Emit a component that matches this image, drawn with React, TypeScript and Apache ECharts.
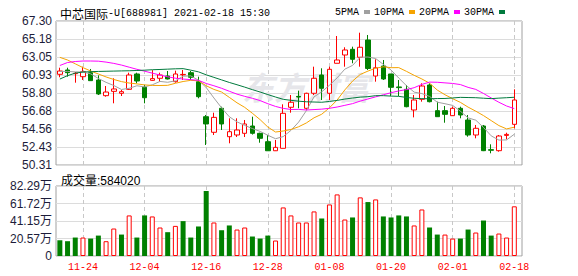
import React, { useEffect, useRef } from 'react';
import * as echarts from 'echarts';

const stockName = '中芯国际';
const stockInfo = '-U[688981] 2021-02-18 15:30';
const watermark = '东方财富';

const dates = [
  '11-19', '11-20', '11-23', '11-24', '11-25', '11-26', '11-27', '11-30', '12-01', '12-02',
  '12-03', '12-04', '12-07', '12-08', '12-09', '12-10', '12-11', '12-14', '12-15', '12-16',
  '12-17', '12-18', '12-21', '12-22', '12-23', '12-24', '12-25', '12-28', '12-29', '12-30',
  '12-31', '01-04', '01-05', '01-06', '01-07', '01-08', '01-11', '01-12', '01-13', '01-14',
  '01-15', '01-18', '01-19', '01-20', '01-21', '01-22', '01-25', '01-26', '01-27', '01-28',
  '01-29', '02-01', '02-02', '02-03', '02-04', '02-05', '02-08', '02-09', '02-10', '02-18',
];

const opens = [
  61.01, 61.52, 61.08, 60.73, 61.20, 60.34, 58.49, 59.00, 58.77, 59.24,
  61.05, 59.48, 60.30, 60.54, 60.81, 60.14, 60.95, 61.20, 60.14, 56.01,
  54.17, 57.00, 53.65, 53.85, 54.05, 54.91, 54.05, 53.06, 51.99, 52.28,
  57.12, 58.40, 57.00, 58.77, 60.93, 58.77, 62.31, 63.29, 63.96, 63.02,
  65.06, 60.81, 61.99, 61.05, 59.52, 59.24, 56.80, 58.06, 59.75, 56.72,
  56.72, 56.13, 57.00, 55.62, 53.85, 54.91, 52.12, 52.00, 53.80, 55.11,
];
const closes = [
  61.40, 61.20, 61.13, 61.32, 60.26, 58.69, 58.92, 59.28, 58.96, 60.93,
  60.22, 58.25, 60.50, 60.93, 60.46, 61.05, 61.00, 60.66, 58.37, 55.15,
  55.93, 55.15, 54.24, 54.44, 55.15, 54.05, 53.46, 51.99, 52.39, 56.41,
  57.71, 58.33, 58.77, 60.54, 59.36, 61.60, 62.70, 63.88, 62.78, 64.20,
  61.70, 61.78, 60.46, 59.48, 59.44, 57.19, 57.98, 59.63, 57.78, 56.01,
  56.29, 57.00, 56.21, 53.85, 54.64, 52.00, 52.05, 53.73, 53.92, 57.98,
];
const lows = [
  60.66, 60.73, 60.02, 60.34, 60.26, 58.57, 58.37, 57.59, 58.45, 59.16,
  59.95, 57.59, 60.25, 60.14, 60.40, 60.02, 60.34, 60.34, 58.18, 52.67,
  53.85, 54.44, 52.87, 53.61, 53.61, 53.90, 52.94, 51.99, 51.96, 52.28,
  56.48, 57.00, 56.80, 58.57, 57.98, 57.98, 62.31, 61.91, 62.31, 61.91,
  61.52, 60.14, 60.34, 58.45, 58.45, 57.12, 55.93, 57.78, 57.70, 56.00,
  55.30, 56.10, 55.82, 53.65, 53.46, 51.95, 51.69, 51.88, 53.34, 54.64,
];
const highs = [
  61.79, 61.79, 61.28, 61.91, 61.64, 60.89, 59.63, 60.54, 59.16, 61.20,
  61.20, 59.75, 61.50, 61.20, 61.40, 61.44, 61.52, 61.40, 60.73, 56.21,
  56.48, 57.19, 55.82, 55.82, 55.62, 56.01, 54.12, 53.85, 53.26, 57.47,
  58.57, 59.08, 58.84, 61.91, 61.72, 61.91, 65.53, 64.20, 64.27, 65.92,
  65.65, 62.78, 62.70, 61.05, 60.34, 59.75, 58.57, 59.95, 59.95, 57.78,
  57.27, 57.19, 57.19, 56.21, 55.03, 55.03, 52.75, 53.85, 54.12, 59.24,
];

// volume in 万 (10,000 shares)
const volumes = [
  18.5, 17.4, 21.7, 21.7, 20.5, 24.0, 17.4, 32.3, 25.2, 47.7,
  21.7, 47.7, 46.5, 33.5, 28.0, 35.4, 41.0, 21.7, 34.7, 76.4,
  39.4, 30.3, 35.9, 31.1, 33.5, 22.9, 20.5, 24.0, 18.2, 57.1,
  47.7, 39.4, 39.4, 52.4, 44.1, 60.6, 72.4, 42.9, 45.3, 68.9,
  63.4, 66.5, 46.5, 45.3, 47.7, 46.5, 35.9, 54.7, 33.5, 25.2,
  25.2, 20.5, 20.5, 31.1, 27.6, 41.7, 24.0, 26.4, 21.7, 58.402,
];
// 1 = red (up) volume bar, 0 = green
const volUp = [
  0, 0, 0, 1, 0, 0, 1, 1, 0, 1,
  0, 0, 1, 1, 0, 1, 0, 0, 0, 0,
  1, 0, 0, 1, 1, 0, 0, 0, 1, 1,
  1, 1, 1, 1, 0, 1, 1, 1, 0, 1,
  0, 1, 0, 0, 0, 0, 1, 1, 0, 0,
  1, 1, 0, 0, 1, 0, 0, 1, 1, 1,
];

const ma5 = [
  61.35, 61.35, 61.30, 61.28, 61.06, 60.52, 60.06, 59.69, 59.22, 59.36,
  59.66, 59.53, 59.77, 60.17, 60.07, 60.24, 60.79, 60.82, 60.31, 59.45,
  58.22, 57.05, 56.00, 55.40, 54.98, 54.61, 54.27, 53.82, 53.41, 53.66,
  54.39, 55.37, 56.72, 58.35, 58.94, 59.72, 60.59, 61.62, 62.06, 63.03,
  63.05, 62.87, 62.18, 61.52, 60.57, 59.67, 58.91, 58.74, 58.40, 57.72,
  57.54, 57.34, 56.66, 55.87, 55.60, 54.74, 53.75, 53.25, 53.27, 53.94,
];
const ma10 = [
  63.01, 62.70, 62.25, 61.80, 61.40, 61.05, 60.70, 60.40, 60.15, 59.98,
  59.88, 59.76, 59.70, 59.69, 59.71, 59.95, 60.16, 60.30, 60.24, 59.66,
  59.23, 58.92, 58.29, 57.65, 57.11, 56.41, 55.66, 54.79, 54.20, 54.32,
  54.50, 54.82, 55.27, 55.88, 56.30, 57.06, 57.98, 59.17, 60.21, 60.99,
  61.39, 61.73, 61.90, 61.79, 61.80, 61.36, 60.89, 60.46, 59.96, 59.15,
  58.60, 58.13, 57.70, 57.14, 56.66, 56.14, 55.55, 54.96, 54.57, 54.77,
];
const ma20 = [
  62.05, 62.40, 62.52, 62.58, 62.58, 62.56, 62.45, 62.30, 62.10, 61.85,
  61.60, 61.38, 61.15, 60.92, 60.72, 60.55, 60.45, 60.38, 60.30, 59.93,
  59.66, 59.36, 59.01, 58.67, 58.41, 58.18, 57.91, 57.54, 57.22, 56.99,
  56.86, 56.87, 56.80, 56.85, 56.90, 57.00, 57.15, 57.35, 57.55, 57.85,
  58.10, 58.35, 58.60, 58.84, 59.05, 59.21, 59.43, 59.82, 60.09, 60.07,
  60.00, 59.93, 59.80, 59.47, 59.23, 58.75, 58.22, 57.71, 57.27, 56.96,
];
const ma30 = [
  60.45, 60.85, 61.15, 61.28, 61.32, 61.35, 61.37, 61.39, 61.41, 61.43,
  61.46, 61.50, 61.55, 61.58, 61.62, 61.66, 61.68, 61.50, 61.30, 60.95,
  60.65, 60.35, 60.05, 59.78, 59.50, 59.20, 58.92, 58.62, 58.33, 58.06,
  57.94, 57.84, 57.77, 57.74, 57.71, 57.81, 57.93, 58.09, 58.21, 58.32,
  58.37, 58.49, 58.49, 58.44, 58.41, 58.28, 58.18, 58.14, 58.12, 58.15,
  58.16, 58.22, 58.29, 58.27, 58.25, 58.19, 58.14, 58.20, 58.25, 58.30,
];

const maNames = ['5PMA', '10PMA', '20PMA', '30PMA'];
const maColors = ['#a0a0a0', '#f5a300', '#ff00ff', '#007a3d'];

const priceMin = 50.31;
const priceMax = 67.3;
const priceTicks = ['50.31', '52.43', '54.56', '56.68', '58.80', '60.93', '63.05', '65.18', '67.30'];
const volMax = 82.29;
const volTicks = ['0', '20.57万', '41.15万', '61.72万', '82.29万'];

const RED = '#ff0000';
const GREEN = '#008000';

export default function App() {
  const ref = useRef<HTMLDivElement>(null);

  useEffect(() => {
    if (!ref.current) return;
    const chart = echarts.init(ref.current, undefined, { renderer: 'svg' });

    const n = dates.length;
    const slotCount = n * 2 + 2;
    const isCandleSlot = (k: number) => k % 2 === 1 && (k - 1) / 2 < n;
    const slotCats = Array.from({ length: slotCount }, (_, k) => (isCandleSlot(k) ? dates[(k - 1) / 2] : ''));
    const toSlots = (arr: any[], empty: any = '-') =>
      slotCats.map((_, k) => (isCandleSlot(k) ? arr[(k - 1) / 2] : empty));
    const isLabelSlot = (k: number) => isCandleSlot(k) && ((k - 1) / 2) % 8 === 3;

    const priceStep = (priceMax - priceMin) / (priceTicks.length - 1);
    const volStep = volMax / (volTicks.length - 1);

    const candleData = toSlots(
      dates.map((_, i) => [opens[i], closes[i], lows[i], highs[i]]),
      ['-', '-', '-', '-']
    );
    const volData = toSlots(
      volumes.map((v, i) => ({
        value: v,
        itemStyle: volUp[i]
          ? { color: '#ffffff', borderColor: RED, borderWidth: 1 }
          : { color: GREEN, borderColor: GREEN, borderWidth: 0 },
      }))
    );
    const mas = [ma5, ma10, ma20, ma30];

    const lastVol = Math.round(volumes[n - 1] * 10000);

    const xAxisBase = {
      type: 'category' as const,
      data: slotCats,
      boundaryGap: false,
      axisLine: { show: false },
      axisTick: { show: false },
      splitLine: {
        show: true,
        interval: (idx: number) => isLabelSlot(idx),
        lineStyle: { color: '#c8c8c8', type: [4, 3] as any, width: 1 },
      },
    };

    const labelFont = {
      color: '#1c1c3a',
      fontSize: 12,
      fontFamily: 'Liberation Sans, Arial, sans-serif',
      margin: 4,
    };

    chart.setOption({
      animation: false,
      backgroundColor: '#ffffff',
      title: [
        {
          text: `{c|${stockName}}{m|${stockInfo}}`,
          left: 55,
          top: 2,
          textStyle: {
            fontWeight: 'normal',
            rich: {
              c: { fontFamily: 'Noto Sans CJK SC', fontSize: 12, fontWeight: 'normal', color: '#000' },
              m: { fontFamily: 'Liberation Mono', fontSize: 10, fontWeight: 'normal', color: '#000' },
            },
          },
        },
        {
          text: `成交量:${lastVol}`,
          left: 56,
          top: 170,
          textStyle: {
            fontFamily: 'Liberation Sans, Noto Sans CJK SC',
            fontSize: 12,
            fontWeight: 'normal',
            color: '#000',
          },
        },
      ],
      legend: {
        data: maNames,
        right: 68,
        top: 2,
        align: 'right',
        icon: 'rect',
        itemWidth: 6,
        itemHeight: 4,
        itemGap: 4,
        textStyle: { fontFamily: 'Liberation Mono', fontSize: 10, color: '#000' },
      },
      graphic: [
        {
          type: 'text',
          left: 242,
          top: 70,
          z: 1,
          silent: true,
          style: {
            text: watermark,
            fontSize: 32,
            fontWeight: 'bold',
            fontStyle: 'italic',
            fontFamily: 'Noto Sans CJK SC',
            fill: '#e6e6ea',
          },
        },
      ],
      grid: [
        { left: 56, top: 21, width: 466, height: 144, show: true, borderColor: '#a0a0a0', borderWidth: 1 },
        { left: 56, top: 186, width: 466, height: 70, show: true, borderColor: '#a0a0a0', borderWidth: 1 },
      ],
      xAxis: [
        { ...xAxisBase, gridIndex: 0, axisLabel: { show: false } },
        {
          ...xAxisBase,
          gridIndex: 1,
          axisLabel: {
            show: true,
            interval: (idx: number) => isLabelSlot(idx),
            color: RED,
            fontSize: 10,
            fontFamily: 'Liberation Mono',
            margin: 6,
          },
        },
      ],
      yAxis: [
        {
          type: 'value',
          gridIndex: 0,
          min: priceMin,
          max: priceMax,
          interval: priceStep,
          axisLine: { show: false },
          axisTick: { show: false },
          splitLine: { show: true, lineStyle: { color: '#dcdcdc', width: 1 } },
          axisLabel: {
            ...labelFont,
            formatter: (v: number) => priceTicks[Math.round((v - priceMin) / priceStep)] ?? '',
          },
        },
        {
          type: 'value',
          gridIndex: 1,
          min: 0,
          max: volMax,
          interval: volStep,
          axisLine: { show: false },
          axisTick: { show: false },
          splitLine: { show: true, lineStyle: { color: '#dcdcdc', width: 1 } },
          axisLabel: {
            ...labelFont,
            fontFamily: 'Liberation Sans, Noto Sans CJK SC',
            formatter: (v: number) => volTicks[Math.round(v / volStep)] ?? '',
          },
        },
      ],
      series: [
        {
          type: 'candlestick',
          xAxisIndex: 0,
          yAxisIndex: 0,
          barWidth: 5,
          data: candleData,
          itemStyle: {
            color: '#ffffff',
            color0: GREEN,
            borderColor: RED,
            borderColor0: GREEN,
            borderWidth: 1,
          },
        },
        ...maNames.map((name, j) => ({
          name,
          type: 'line',
          xAxisIndex: 0,
          yAxisIndex: 0,
          data: toSlots(mas[j]),
          connectNulls: true,
          symbol: 'none',
          showSymbol: false,
          color: maColors[j],
          lineStyle: { color: maColors[j], width: 1 },
        })),
        {
          type: 'bar',
          xAxisIndex: 1,
          yAxisIndex: 1,
          barWidth: 5,
          data: volData,
        },
      ],
    });

    return () => chart.dispose();
  }, []);

  return (
    <div
      ref={ref}
      style={{ position: 'absolute', left: 0, top: 0, width: 578, height: 276, background: '#fff' }}
    />
  );
}
